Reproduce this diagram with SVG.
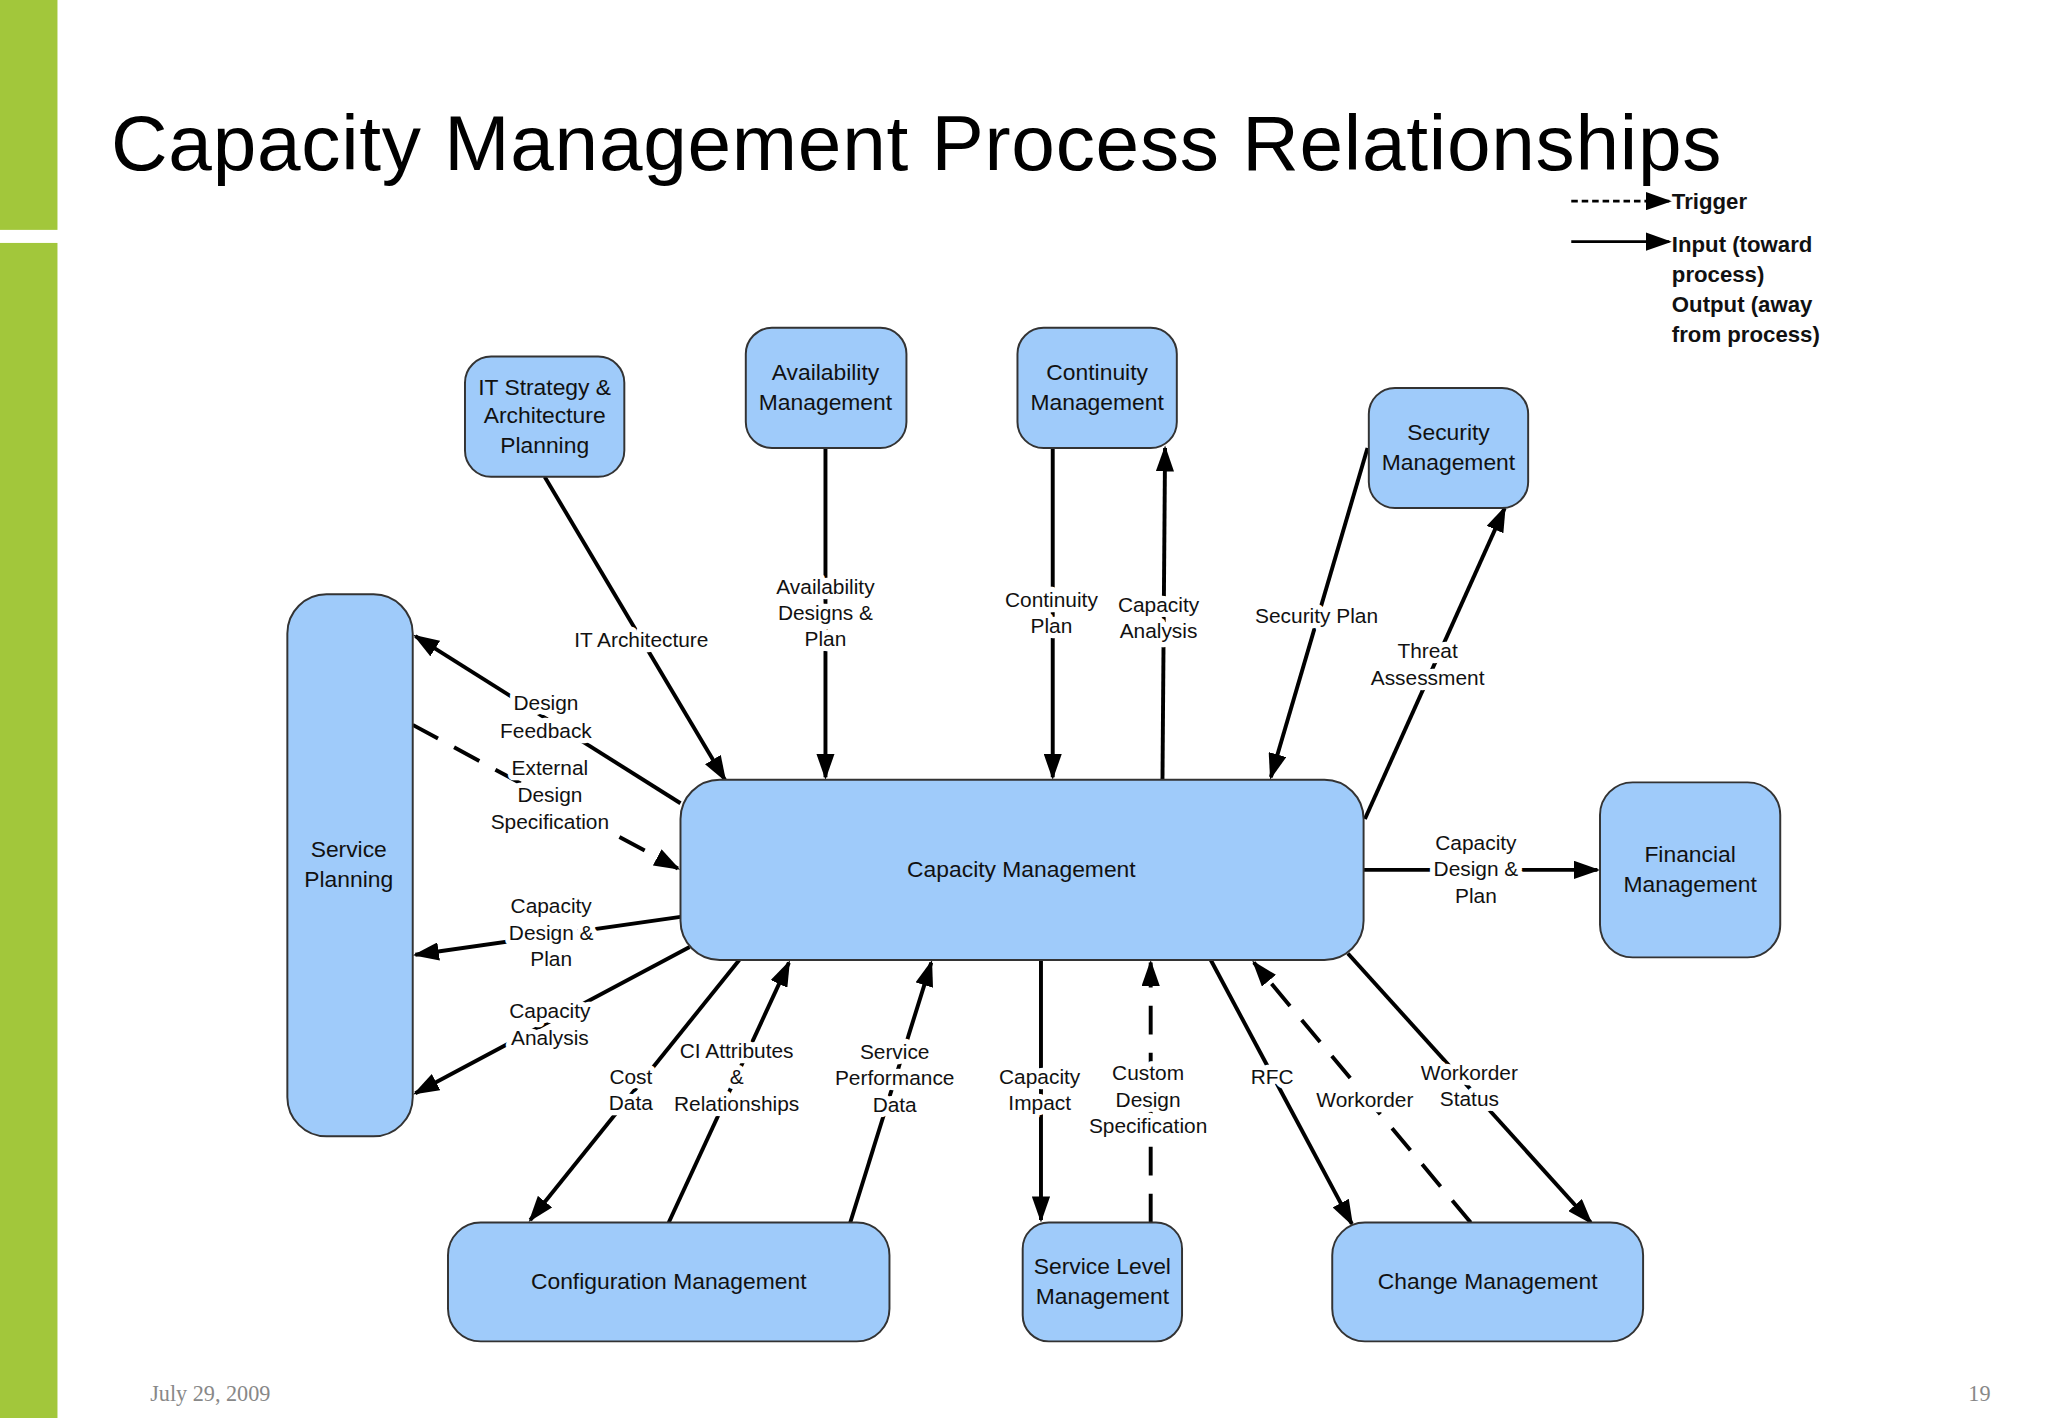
<svg xmlns="http://www.w3.org/2000/svg" width="2048" height="1418" viewBox="0 0 2048 1418">
<style>
.n{fill:#9fcbfa;stroke:#333;stroke-width:1.5}
.t{font-family:"Liberation Sans",Arial,sans-serif;font-size:17.5px;fill:#111;text-anchor:middle;dominant-baseline:central}
.l{font-family:"Liberation Sans",Arial,sans-serif;font-size:16px;fill:#111;text-anchor:middle;dominant-baseline:central;paint-order:stroke;stroke:#fff;stroke-width:8;stroke-linejoin:round}
.c{stroke:#000;stroke-width:3;fill:none;marker-end:url(#a)}
.d{stroke-dasharray:22 14}
.lg{font-family:"Liberation Sans",Arial,sans-serif;font-size:17px;font-weight:bold;fill:#111}
</style>
<defs>
<marker id="a" markerUnits="userSpaceOnUse" markerWidth="20" markerHeight="14" refX="18" refY="7" orient="auto"><path d="M0,0 L20,7 L0,14 z" fill="#000"/></marker>
</defs>
<rect width="2048" height="1418" fill="#fff"/>
<g transform="scale(1.30612)">
<rect x="0" y="0" width="44" height="176" fill="#a2c73b"/>
<rect x="0" y="186" width="44" height="900" fill="#a2c73b"/>
<text x="85" y="130" font-family="'Liberation Sans',Arial,sans-serif" font-size="60" fill="#000" textLength="1233">Capacity Management Process Relationships</text>
<g id="legend">
<line x1="1203" y1="154" x2="1278" y2="154" stroke="#000" stroke-width="2" stroke-dasharray="5 3" marker-end="url(#a)"/>
<line x1="1203" y1="185" x2="1278" y2="185" stroke="#000" stroke-width="2" marker-end="url(#a)"/>
<text class="lg" x="1280" y="160">Trigger</text>
<text class="lg" x="1280" y="193">Input (toward</text>
<text class="lg" x="1280" y="216">process)</text>
<text class="lg" x="1280" y="239">Output (away</text>
<text class="lg" x="1280" y="262">from process)</text>
</g>
<text x="115" y="1073" font-family="'Liberation Serif',serif" font-size="17" fill="#888">July 29, 2009</text>
<text x="1507" y="1073" font-family="'Liberation Serif',serif" font-size="17" fill="#888">19</text>
<g id="connectors">
<line class="c" x1="417" y1="365" x2="555" y2="597"/>
<line class="c" x1="632" y1="343" x2="632" y2="595"/>
<line class="c" x1="806" y1="343" x2="806" y2="595"/>
<line class="c" x1="890" y1="600" x2="892" y2="343"/>
<line class="c" x1="1047" y1="343" x2="973" y2="595"/>
<line class="c" x1="1045" y1="627" x2="1152" y2="389"/>
<line class="c" x1="521" y1="615" x2="318" y2="487"/>
<line class="c d" x1="316" y1="555" x2="519" y2="665"/>
<line class="c" x1="521" y1="702" x2="318" y2="731"/>
<line class="c" x1="528" y1="725" x2="318" y2="837"/>
<line class="c" x1="566" y1="735" x2="406" y2="934"/>
<line class="c" x1="512" y1="936" x2="604" y2="737"/>
<line class="c" x1="651" y1="936" x2="713" y2="737"/>
<line class="c" x1="797" y1="735" x2="797" y2="934"/>
<line class="c d" x1="881" y1="936" x2="881" y2="737"/>
<line class="c" x1="927" y1="735" x2="1035" y2="937"/>
<line class="c d" x1="1126" y1="936" x2="960" y2="737"/>
<line class="c" x1="1032" y1="730" x2="1218" y2="936"/>
<line class="c" x1="1044" y1="666" x2="1223" y2="666"/>
</g>
<g id="labels">
<text class="l" x="491" y="490">IT Architecture</text>
<text class="l" x="632" y="449">Availability</text><text class="l" x="632" y="469">Designs &amp;</text><text class="l" x="632" y="489">Plan</text>
<text class="l" x="805" y="459">Continuity</text><text class="l" x="805" y="479">Plan</text>
<text class="l" x="887" y="463">Capacity</text><text class="l" x="887" y="483">Analysis</text>
<text class="l" x="1008" y="471">Security Plan</text>
<text class="l" x="1093" y="498">Threat</text><text class="l" x="1093" y="519">Assessment</text>
<text class="l" x="418" y="538">Design</text><text class="l" x="418" y="559">Feedback</text>
<text class="l" x="421" y="588">External</text><text class="l" x="421" y="608">Design</text><text class="l" x="421" y="629">Specification</text>
<text class="l" x="422" y="693">Capacity</text><text class="l" x="422" y="714">Design &amp;</text><text class="l" x="422" y="734">Plan</text>
<text class="l" x="421" y="774">Capacity</text><text class="l" x="421" y="794">Analysis</text>
<text class="l" x="483" y="824">Cost</text><text class="l" x="483" y="844">Data</text>
<text class="l" x="564" y="804">CI Attributes</text><text class="l" x="564" y="824">&amp;</text><text class="l" x="564" y="845">Relationships</text>
<text class="l" x="685" y="805">Service</text><text class="l" x="685" y="825">Performance</text><text class="l" x="685" y="846">Data</text>
<text class="l" x="796" y="824">Capacity</text><text class="l" x="796" y="844">Impact</text>
<text class="l" x="879" y="821">Custom</text><text class="l" x="879" y="842">Design</text><text class="l" x="879" y="862">Specification</text>
<text class="l" x="974" y="824">RFC</text>
<text class="l" x="1045" y="842">Workorder</text>
<text class="l" x="1125" y="821">Workorder</text><text class="l" x="1125" y="841">Status</text>
<text class="l" x="1130" y="645">Capacity</text><text class="l" x="1130" y="665">Design &amp;</text><text class="l" x="1130" y="686">Plan</text>
</g>
<g id="it"><rect class="n" x="356" y="273" width="122" height="92" rx="20"/><text class="t" x="417" y="296">IT Strategy &amp;</text><text class="t" x="417" y="318">Architecture</text><text class="t" x="417" y="341">Planning</text></g>
<g id="avail"><rect class="n" x="571" y="251" width="123" height="92" rx="20"/><text class="t" x="632" y="285">Availability</text><text class="t" x="632" y="308">Management</text></g>
<g id="cont"><rect class="n" x="779" y="251" width="122" height="92" rx="20"/><text class="t" x="840" y="285">Continuity</text><text class="t" x="840" y="308">Management</text></g>
<g id="sec"><rect class="n" x="1048" y="297" width="122" height="92" rx="20"/><text class="t" x="1109" y="331">Security</text><text class="t" x="1109" y="354">Management</text></g>
<g id="sp"><rect class="n" x="220" y="455" width="96" height="415" rx="30"/><text class="t" x="267" y="650">Service</text><text class="t" x="267" y="673">Planning</text></g>
<g id="cm"><rect class="n" x="521" y="597" width="523" height="138" rx="30"/><text class="t" x="782" y="665" font-size="28">Capacity Management</text></g>
<g id="fin"><rect class="n" x="1225" y="599" width="138" height="134" rx="25"/><text class="t" x="1294" y="654">Financial</text><text class="t" x="1294" y="677">Management</text></g>
<g id="conf"><rect class="n" x="343" y="936" width="338" height="91" rx="25"/><text class="t" x="512" y="981">Configuration Management</text></g>
<g id="sl"><rect class="n" x="783" y="936" width="122" height="91" rx="20"/><text class="t" x="844" y="969">Service Level</text><text class="t" x="844" y="992">Management</text></g>
<g id="chg"><rect class="n" x="1020" y="936" width="238" height="91" rx="25"/><text class="t" x="1139" y="981">Change Management</text></g>
</g>
</svg>
